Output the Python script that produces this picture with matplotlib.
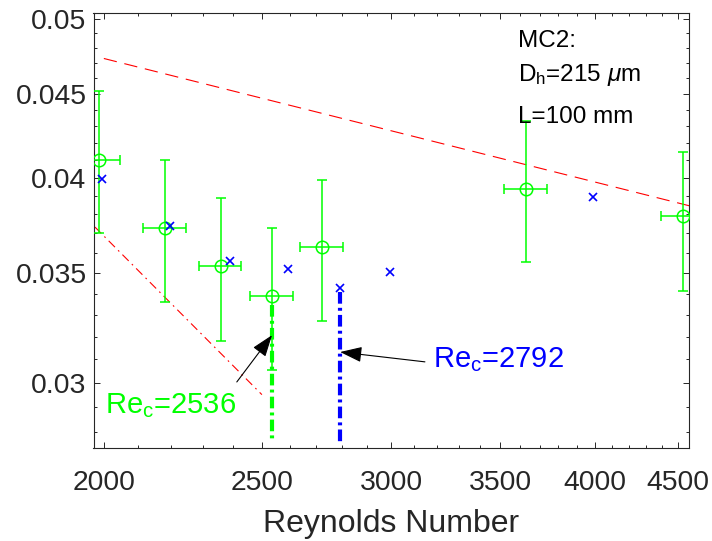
import matplotlib
matplotlib.use('Agg')
import matplotlib.pyplot as plt
from matplotlib.ticker import FixedLocator, FixedFormatter, NullFormatter

plt.rcParams['font.family'] = ['Liberation Sans', 'DejaVu Sans']
plt.rcParams['mathtext.fontset'] = 'custom'
plt.rcParams['mathtext.rm'] = 'Liberation Sans'
plt.rcParams['mathtext.it'] = 'Liberation Sans:italic'
plt.rcParams['mathtext.bf'] = 'Liberation Sans:bold'

# ---------------- data ----------------
exp_re = [1986, 2180, 2359, 2536, 2721, 3630, 4531]
exp_f = [0.0410, 0.0373, 0.03535, 0.0339, 0.0363, 0.0394, 0.0379]
exp_f_low = [0.0370, 0.0336, 0.0318, 0.03054, 0.0327, 0.03554, 0.0341]
exp_f_high = [0.0452, 0.0410, 0.0389, 0.0373, 0.0399, 0.0433, 0.0415]
exp_re_err = [60, 67, 70, 78, 82, 110, 139]

model_re = [1995, 2195, 2390, 2595, 2792, 2995, 3990]
model_f = [0.03994, 0.03738, 0.03559, 0.0352, 0.03427, 0.03505, 0.03894]

blasius_re = [2000, 4600]
blasius_f = [0.0473, 0.0384]
laminar_re = [1900, 2500]
laminar_f = [0.0388, 0.0295]

rec_exp = 2536
rec_exp_f = [0.03346, 0.0276]
rec_model = 2792
rec_model_f = [0.03408, 0.0276]

x_ticks = [2000, 2500, 3000, 3500, 4000, 4500]
x_tick_labels = ['2000', '2500', '3000', '3500', '4000', '4500']
x_minor = list(range(2000, 4600, 100))
y_ticks = [0.03, 0.035, 0.04, 0.045, 0.05]
y_tick_labels = ['0.03', '0.035', '0.04', '0.045', '0.05']
y_minor = [round(0.027 + 0.001 * i, 3) for i in range(24)]

# ---------------- figure ----------------
W, H = 712, 541
fig = plt.figure(figsize=(W / 100, H / 100), dpi=100)
ax = fig.add_axes([93.5 / W, (H - 448) / H, (689 - 93.5) / W, (448 - 13) / H])
ax.set_xscale('log')
ax.set_yscale('log')

green = '#00ff00'
ax.plot(blasius_re, blasius_f, color='red', lw=0.8, linestyle=(0, (12, 7)), zorder=2)
ax.plot(laminar_re, laminar_f, color='red', lw=0.8, linestyle=(0, (8, 4, 1.5, 4)), zorder=2)

yerr = [[f - lo for f, lo in zip(exp_f, exp_f_low)],
        [hi - f for f, hi in zip(exp_f, exp_f_high)]]
ax.errorbar(exp_re, exp_f, yerr=yerr, xerr=exp_re_err, fmt='o', mfc='none',
            mec=green, ecolor=green, ms=9, mew=1.1, elinewidth=1.1,
            capsize=3.8, capthick=1.1, zorder=3)
ax.plot(model_re, model_f, 'x', color='blue', ms=6.3, mew=1.2, zorder=4)

ax.plot([rec_exp, rec_exp], rec_exp_f, color=green, lw=3.0,
        linestyle=(0, (2.8, 1.0, 0.7, 1.0)), zorder=3)
ax.plot([rec_model, rec_model], rec_model_f, color='blue', lw=3.0,
        linestyle=(0, (2.8, 1.0, 0.7, 1.0)), zorder=3)

ax.set_xlim(1971, 4569)
ax.set_ylim(0.02737, 0.05042)

axcol = '#262626'
ax.xaxis.set_major_locator(FixedLocator(x_ticks))
ax.xaxis.set_major_formatter(FixedFormatter(x_tick_labels))
ax.xaxis.set_minor_locator(FixedLocator(x_minor))
ax.xaxis.set_minor_formatter(NullFormatter())
ax.yaxis.set_major_locator(FixedLocator(y_ticks))
ax.yaxis.set_major_formatter(FixedFormatter(y_tick_labels))
ax.yaxis.set_minor_locator(FixedLocator(y_minor))
ax.yaxis.set_minor_formatter(NullFormatter())

ax.tick_params(which='both', direction='in', top=True, right=True, color=axcol, width=0.7)
ax.tick_params(which='major', length=4.5, labelsize=20.4, labelcolor=axcol)
ax.tick_params(which='minor', length=2.5)
ax.tick_params(axis='x', which='major', pad=16)
ax.tick_params(axis='y', which='major', pad=5)
for s in ax.spines.values():
    s.set_color(axcol)
    s.set_linewidth(0.8)

ax.set_xlabel('Reynolds Number', fontsize=23, color=axcol, labelpad=9)

# info text
ax.text(0.713, 0.922, 'MC2:', transform=ax.transAxes, fontsize=17.5, va='baseline', color='black')
ax.text(0.713, 0.8437, r'D$_\mathrm{h}$=215 $\mu$m', transform=ax.transAxes, fontsize=17.5,
        va='baseline', color='black')
ax.text(0.713, 0.747, 'L=100 mm', transform=ax.transAxes, fontsize=17.5, va='baseline', color='black')

# annotations
ax.annotate('', xy=(rec_exp, 0.03207), xytext=(2413, 0.03003),
            arrowprops=dict(arrowstyle='-|>,head_length=0.9,head_width=0.32', color='black',
                            lw=0.8, shrinkA=0, shrinkB=0, mutation_scale=15))
ax.annotate('', xy=(rec_model, 0.03132), xytext=(3147, 0.03089),
            arrowprops=dict(arrowstyle='-|>,head_length=0.9,head_width=0.32', color='black',
                            lw=0.8, shrinkA=0, shrinkB=0, mutation_scale=15))
ax.text(0.0193, 0.0805, r'Re$_\mathrm{c}$=%d' % rec_exp, transform=ax.transAxes,
        fontsize=21, color=green, va='baseline')
ax.text(0.570, 0.186, r'Re$_\mathrm{c}$=%d' % rec_model, transform=ax.transAxes,
        fontsize=21, color='blue', va='baseline')

fig.savefig('out.png', dpi=100, facecolor='white')
